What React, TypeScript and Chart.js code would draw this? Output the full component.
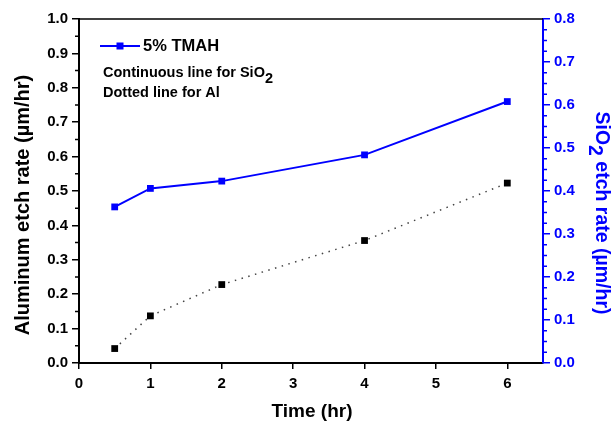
import React, { useEffect, useRef } from "react";
import { Chart, registerables } from "chart.js";

Chart.register(...registerables);

const times = [0.5, 1, 2, 4, 6];
const alRate = [0.042, 0.137, 0.228, 0.356, 0.523];
const sio2Rate = [0.363, 0.406, 0.423, 0.484, 0.608];

const xTicks = [0, 1, 2, 3, 4, 5, 6];
const legendLabel = "5% TMAH";
const noteLine1 = "Continuous line for SiO";
const noteLine2 = "Dotted line for Al";
const leftTitle = "Aluminum etch rate (\u00b5m/hr)";
const rightTitleMain = " etch rate (\u00b5m/hr)";
const xTitle = "Time (hr)";

const FONT = "'Liberation Sans', Arial, sans-serif";
const BLUE = "#0000ff";

const overlay = {
  id: "overlay",
  afterDraw(chart: any) {
    const ctx = chart.ctx as CanvasRenderingContext2D;
    const area = chart.chartArea;
    const y = chart.scales.y;
    const y1 = chart.scales.y1;
    ctx.save();
    ctx.strokeStyle = "#000";
    ctx.lineWidth = 1.5;
    ctx.beginPath();
    ctx.moveTo(area.left, area.top);
    ctx.lineTo(area.right, area.top);
    ctx.stroke();
    ctx.lineWidth = 1.5;
    ctx.beginPath();
    for (let i = 0; i < 10; i++) {
      const v = i * 0.1 + 0.05;
      const p = y.getPixelForValue(v);
      ctx.moveTo(area.left, p);
      ctx.lineTo(area.left - 4, p);
    }
    ctx.stroke();
    ctx.strokeStyle = BLUE;
    ctx.beginPath();
    for (let i = 0; i < 32; i++) {
      if (i % 4 === 0) continue;
      const v = i * 0.025;
      const p = y1.getPixelForValue(v);
      ctx.moveTo(area.right, p);
      ctx.lineTo(area.right + 4, p);
    }
    ctx.stroke();

    ctx.fillStyle = "#000";
    ctx.font = `bold 20px ${FONT}`;
    ctx.textAlign = "center";
    ctx.textBaseline = "middle";
    ctx.save();
    ctx.translate(23, 205);
    ctx.rotate(-Math.PI / 2);
    ctx.fillText(leftTitle, 0, 0);
    ctx.restore();

    ctx.save();
    ctx.fillStyle = BLUE;
    ctx.font = `bold 19.5px ${FONT}`;
    ctx.textAlign = "left";
    const wMain = ctx.measureText("SiO").width;
    const w2 = ctx.measureText("2").width;
    const wRest = ctx.measureText(rightTitleMain).width;
    const total = wMain + w2 + wRest;
    ctx.translate(601, 213);
    ctx.rotate(Math.PI / 2);
    let sx = -total / 2;
    ctx.fillText("SiO", sx, 0);
    sx += wMain;
    ctx.fillText("2", sx, 7);
    sx += w2;
    ctx.fillText(rightTitleMain, sx, 0);
    ctx.restore();

    ctx.fillStyle = "#000";
    ctx.font = `bold 19px ${FONT}`;
    ctx.textAlign = "center";
    ctx.fillText(xTitle, 312, 412);

    ctx.strokeStyle = BLUE;
    ctx.lineWidth = 2;
    ctx.beginPath();
    ctx.moveTo(100, 46);
    ctx.lineTo(140, 46);
    ctx.stroke();
    ctx.fillStyle = BLUE;
    ctx.fillRect(116.5, 42.5, 7, 7);
    ctx.fillStyle = "#000";
    ctx.font = `bold 16.5px ${FONT}`;
    ctx.textAlign = "left";
    ctx.fillText(legendLabel, 143, 46);

    ctx.font = `bold 14.5px ${FONT}`;
    ctx.fillText(noteLine1, 103, 73);
    const wn = ctx.measureText(noteLine1).width;
    ctx.fillText("2", 103 + wn, 79);
    ctx.fillText(noteLine2, 103, 93);
    ctx.restore();
  },
};

export default function App() {
  const ref = useRef<HTMLCanvasElement | null>(null);
  useEffect(() => {
    if (!ref.current) return;
    const chart = new Chart(ref.current, {
      type: "line",
      data: {
        datasets: [
          {
            label: "SiO2",
            data: times.map((t, i) => ({ x: t, y: sio2Rate[i] })),
            yAxisID: "y1",
            borderColor: BLUE,
            backgroundColor: BLUE,
            borderWidth: 2,
            pointStyle: "rect",
            pointRadius: 4.8,
            pointBorderWidth: 0,
            tension: 0,
          },
          {
            label: "Al",
            data: times.map((t, i) => ({ x: t, y: alRate[i] })),
            yAxisID: "y",
            borderColor: "#444",
            backgroundColor: "#000",
            borderWidth: 1.5,
            borderDash: [1.5, 5.5],
            pointStyle: "rect",
            pointRadius: 4.8,
            pointBorderWidth: 0,
            tension: 0,
          },
        ],
      },
      options: {
        animation: false,
        responsive: false,
        layout: { padding: { top: 19, left: 0, right: 0, bottom: 0 } },
        plugins: { legend: { display: false }, tooltip: { enabled: false } },
        scales: {
          x: {
            type: "linear",
            min: 0,
            max: 6.5,
            afterFit: (s: any) => {
              s.height = 60;
            },
            afterBuildTicks: (s: any) => {
              s.ticks = xTicks.map((v) => ({ value: v }));
            },
            ticks: {
              stepSize: 1,
              includeBounds: false,
              color: "#000",
              font: { family: FONT, size: 15, weight: "bold" },
              padding: 6,
              maxRotation: 0,
            },
            grid: {
              display: true,
              drawOnChartArea: false,
              drawTicks: true,
              tickLength: 6,
              color: "#000",
              lineWidth: 1.5,
            },
            border: { display: true, color: "#000", width: 2 },
          },
          y: {
            type: "linear",
            position: "left",
            min: 0,
            max: 1,
            afterFit: (s: any) => {
              s.width = 79;
            },
            ticks: {
              stepSize: 0.1,
              color: "#000",
              font: { family: FONT, size: 15, weight: "bold" },
              padding: 4,
              callback: (v: any) => Number(v).toFixed(1),
            },
            grid: {
              display: true,
              drawOnChartArea: false,
              drawTicks: true,
              tickLength: 7,
              color: "#000",
              lineWidth: 1.5,
            },
            border: { display: true, color: "#000", width: 2 },
          },
          y1: {
            type: "linear",
            position: "right",
            min: 0,
            max: 0.8,
            afterFit: (s: any) => {
              s.width = 69;
            },
            ticks: {
              stepSize: 0.1,
              color: BLUE,
              font: { family: FONT, size: 15, weight: "bold" },
              padding: 4,
              callback: (v: any) => Number(v).toFixed(1),
            },
            grid: {
              display: true,
              drawOnChartArea: false,
              drawTicks: true,
              tickLength: 7,
              color: BLUE,
              lineWidth: 1.5,
            },
            border: { display: true, color: BLUE, width: 2 },
          },
        },
      },
      plugins: [overlay],
    });
    return () => chart.destroy();
  }, []);
  return (
    <div style={{ position: "fixed", left: 0, top: 0, width: 612, height: 423, background: "#fff" }}>
      <canvas ref={ref} width={612} height={423} style={{ width: 612, height: 423 }} />
    </div>
  );
}
